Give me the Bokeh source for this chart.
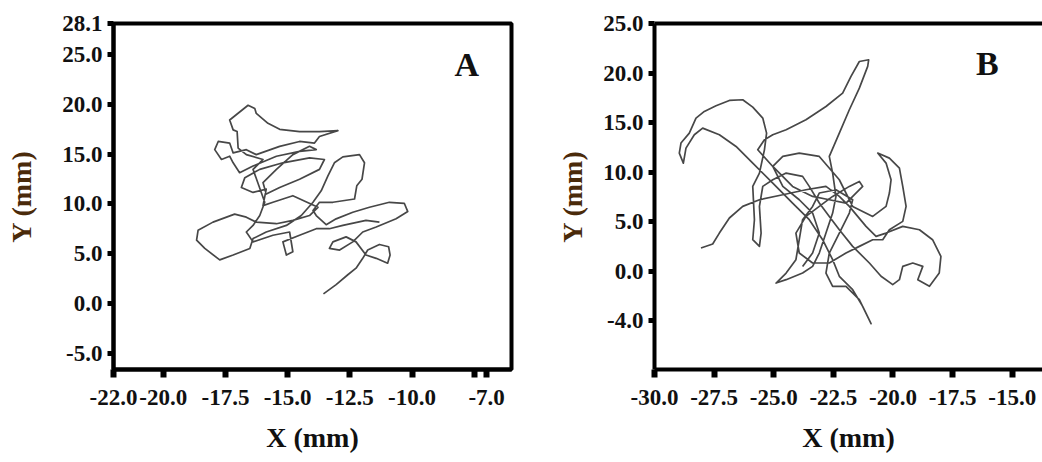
from bokeh.plotting import figure
from bokeh.models import FixedTicker, Label, LinearAxis, Range1d
from bokeh.layouts import row
from bokeh.embed import file_html
from bokeh.resources import INLINE

# ---------------- data ----------------
# Panel A trajectory (mm)
a_x = [-13.56, -13.05, -12.58, -12.25, -11.98, -11.78, -11.31, -10.94, -10.88, -10.98,
       -11.44, -11.85, -12.25, -12.65, -13.18, -13.32, -12.91, -12.38, -11.98, -11.44,
       -10.64, -10.17, -10.31, -10.91, -11.71, -12.38, -13.05, -13.45, -13.85, -13.98,
       -13.72, -13.18, -12.31, -12.22, -12.01, -11.91, -12.11, -12.78, -13.12, -13.38,
       -13.65, -13.98, -14.45, -15.05, -15.86, -16.39, -16.52, -17.19, -17.73, -18.33,
       -18.66, -18.60, -18.00, -17.13, -16.66, -16.26, -15.45, -14.79, -14.12, -13.78,
       -14.79, -15.59, -15.99, -15.86, -16.39, -16.86, -16.72, -16.12, -15.19, -14.12,
       -13.52, -13.72, -14.52, -15.32, -15.86, -15.99, -15.45, -14.79, -14.12, -13.85,
       -14.52, -15.45, -16.39, -16.93, -17.19, -17.33, -17.66, -17.93, -17.79, -17.33,
       -17.19, -16.66, -16.26, -15.32, -14.52, -13.92, -13.72, -12.98, -13.72, -14.52,
       -15.32, -15.79, -16.26, -16.32, -16.59, -17.33, -17.19, -17.03, -16.99, -16.66,
       -15.99, -16.39, -15.92, -16.12, -16.39, -16.66, -16.39, -15.59, -14.92, -14.79,
       -15.05, -15.19, -14.52, -13.85, -13.32, -12.78, -11.85, -11.31]
a_y = [0.99, 1.91, 2.90, 3.56, 4.55, 5.38, 5.94, 5.71, 4.88, 4.06,
       4.55, 4.88, 6.20, 6.70, 6.20, 5.54, 5.38, 6.20, 7.19, 7.69,
       8.51, 9.24, 10.07, 10.17, 9.67, 9.17, 8.51, 7.92, 8.84, 9.34,
       10.17, 10.17, 10.50, 11.82, 12.48, 14.13, 14.95, 14.72, 14.13, 12.81,
       11.32, 10.17, 8.84, 7.85, 7.19, 6.53, 5.54, 4.88, 4.39, 5.54,
       6.37, 7.36, 8.18, 8.98, 8.68, 8.18, 8.02, 8.35, 8.84, 9.67,
       10.83, 10.17, 9.83, 11.49, 11.16, 11.65, 12.64, 13.47, 14.13, 14.62,
       14.46, 13.47, 12.48, 11.65, 10.99, 12.15, 13.47, 14.95, 15.78, 15.45,
       15.28, 14.79, 13.80, 13.14, 14.13, 14.79, 14.46, 15.45, 16.27, 16.11,
       15.12, 15.45, 14.95, 15.78, 16.27, 16.11, 16.77, 17.36, 17.26, 17.26,
       17.49, 18.09, 19.08, 19.57, 19.90, 18.42, 17.43, 17.26, 15.61, 14.95,
       14.46, 13.47, 10.17, 8.84, 7.85, 7.19, 6.20, 6.86, 7.19, 5.21,
       4.88, 6.20, 6.86, 7.52, 7.52, 7.85, 8.35, 8.18]

# Panel B trajectory (mm)
b_x = [-28.05, -27.56, -27.28, -26.86, -26.30, -25.60, -24.62, -23.65, -22.81, -22.25,
       -21.83, -21.13, -20.71, -20.29, -19.59, -18.89, -18.34, -17.99, -18.06, -18.47,
       -18.96, -18.75, -19.17, -19.59, -19.73, -20.01, -20.50, -20.99, -21.69, -22.25,
       -22.67, -23.09, -23.51, -23.79, -24.48, -25.04, -25.46, -25.60, -25.53, -25.60,
       -25.88, -25.81, -25.88, -25.60, -25.39, -25.30, -25.46, -25.88, -26.30, -26.86,
       -27.42, -27.91, -28.26, -28.54, -28.89, -28.96, -28.79, -28.68, -28.33, -27.98,
       -27.28, -26.58, -25.88, -25.04, -24.21, -23.51, -22.95, -22.53, -22.25, -21.69,
       -21.27, -20.92, -21.41, -21.97, -22.53, -22.81, -22.67, -22.25, -21.83, -21.69,
       -22.39, -23.09, -23.37, -23.79, -23.93, -24.07, -24.48, -24.90, -24.48, -23.79,
       -23.37, -23.09, -22.81, -22.53, -22.39, -22.53, -22.67, -22.25, -21.83, -21.41,
       -21.06, -21.02, -21.41, -21.76, -22.11, -22.81, -23.65, -24.48, -25.04, -25.39,
       -25.67, -25.04, -24.21, -23.37, -22.67, -21.97, -21.27, -21.41, -21.83, -22.53,
       -23.09, -23.65, -24.07, -23.93, -23.37, -22.67, -21.97, -21.41, -20.85, -20.43,
       -20.15, -19.59, -19.45, -19.59, -19.73, -20.15, -20.64, -20.29, -20.08, -20.15,
       -20.29, -20.85, -21.69, -22.25, -23.09, -23.93, -24.62, -25.04, -24.62, -23.93,
       -23.37, -23.09, -23.37, -23.79]
b_y = [2.35, 2.76, 3.86, 5.38, 6.55, 7.22, 7.73, 8.23, 8.57, 7.56,
       6.55, 4.54, 3.53, 3.86, 4.54, 4.20, 3.19, 1.51, -0.17, -1.51,
       -0.84, 0.50, 0.84, 0.50, -0.84, -1.34, -0.50, 0.84, 2.52, 4.20,
       5.54, 6.89, 8.57, 9.58, 9.91, 9.24, 8.57, 6.55, 3.86, 2.52,
       3.19, 5.21, 8.57, 9.91, 12.26, 13.94, 15.46, 16.57, 17.31, 17.24,
       16.70, 16.13, 15.46, 13.94, 12.94, 11.93, 10.92, 12.43, 13.78, 14.45,
       13.78, 12.60, 10.92, 8.90, 6.89, 5.21, 3.19, 1.18, -0.50, -1.85,
       -3.53, -5.28, -2.86, -1.51, -1.51, -0.17, 1.85, 3.86, 5.88, 7.22,
       8.23, 7.90, 6.55, 5.21, 3.19, 1.18, -0.17, -1.18, -0.84, -0.17,
       0.50, 1.85, 3.86, 5.88, 7.56, 9.91, 11.59, 13.94, 16.30, 18.48,
       20.67, 21.34, 21.17, 19.66, 17.98, 16.63, 15.29, 14.28, 13.78, 13.27,
       12.26, 10.58, 8.57, 7.56, 7.22, 6.89, 8.57, 9.07, 8.57, 7.56,
       6.55, 5.54, 3.86, 1.85, 0.84, 0.84, 1.85, 2.52, 3.19, 3.19,
       4.20, 5.04, 6.55, 8.57, 10.42, 11.42, 11.93, 10.92, 9.24, 7.90,
       6.55, 5.54, 6.55, 9.24, 11.59, 11.93, 11.59, 10.58, 8.57, 7.22,
       5.88, 3.86, 1.85, 0.50]

# axis ranges and ticks
a_xrange = (-22.0, -6.0)
a_yrange = (-6.6, 28.1)
a_xticks = [-22.0, -20.0, -17.5, -15.0, -12.5, -10.0, -7.5, -7.0]
a_xlabels = ["-22.0", "-20.0", "-17.5", "-15.0", "-12.5", "-10.0", "", "-7.0"]
a_yticks = [-5.0, 0.0, 5.0, 10.0, 15.0, 20.0, 25.0, 28.1]
a_ylabels = ["-5.0", "0.0", "5.0", "10.0", "15.0", "20.0", "25.0", "28.1"]

b_xrange = (-30.0, -13.73)
b_yrange = (-9.9, 25.0)
b_xticks = [-30.0, -27.5, -25.0, -22.5, -20.0, -17.5, -15.0]
b_xlabels = ["-30.0", "-27.5", "-25.0", "-22.5", "-20.0", "-17.5", "-15.0"]
b_yticks = [-5.0, 0.0, 5.0, 10.0, 15.0, 20.0, 25.0]
b_ylabels = ["-4.0", "0.0", "5.0", "10.0", "15.0", "20.0", "25.0"]

FONT = "Liberation Serif"
TRACK = "#3d3d3d"
YLAB = "#4a2a0a"


def style(ax, ticks, labels, tick_w, tick_out, standoff, lab_standoff, lab_color):
    ax.ticker = FixedTicker(ticks=ticks)
    ax.major_label_overrides = {t: l for t, l in zip(ticks, labels)}
    ax.minor_tick_line_color = None
    ax.major_tick_in = 0
    ax.major_tick_out = tick_out
    ax.major_tick_line_width = tick_w
    ax.major_tick_line_color = "black"
    ax.axis_line_width = 4
    ax.axis_line_color = "black"
    ax.major_label_text_font = FONT
    ax.major_label_text_font_style = "bold"
    ax.major_label_text_font_size = "23px"
    ax.major_label_text_color = "#111111"
    ax.major_label_standoff = standoff
    ax.axis_label_text_font = FONT
    ax.axis_label_text_font_style = "bold"
    ax.axis_label_text_font_size = "28px"
    ax.axis_label_text_color = lab_color
    ax.axis_label_standoff = lab_standoff


def make_panel(xs, ys, xr, yr, xt, xl, yt, yl, w, h, bl, br, bt, bb, ylab_standoff, letter, lx, ly, outline):
    p = figure(width=w, height=h, x_range=Range1d(*xr), y_range=Range1d(*yr),
               output_backend="svg", toolbar_location=None, tools="",
               min_border_left=bl, min_border_right=br, min_border_top=bt, min_border_bottom=bb,
               x_axis_label="X (mm)", y_axis_label="Y (mm)")
    p.grid.visible = False
    p.background_fill_color = "white"
    p.border_fill_color = "white"
    style(p.below[0], xt, xl, 6, 8, 12, 14, "#111111")
    style(p.left[0], yt, yl, 5, 6, 5, ylab_standoff, YLAB)
    if outline:
        p.outline_line_color = "black"
        p.outline_line_width = 4
    else:
        p.outline_line_color = None
        top = LinearAxis(ticker=FixedTicker(ticks=[]), axis_line_width=4, axis_line_color="black",
                         major_tick_line_color=None, minor_tick_line_color=None,
                         major_label_text_font_size="0px")
        p.add_layout(top, "above")
    p.line(xs, ys, line_color=TRACK, line_width=1.7, line_join="round", line_alpha=0.95)
    p.add_layout(Label(x=lx, y=ly, text=letter, text_font=FONT, text_font_style="bold",
                       text_font_size="34px", text_align="center", text_baseline="middle",
                       text_color="#111111"))
    return p


pA = make_panel(a_x, a_y, a_xrange, a_yrange, a_xticks, a_xlabels, a_yticks, a_ylabels,
                531, 458, 113, 20, 23, 89, 22, "A", -7.8, 24.0, True)
pB = make_panel(b_x, b_y, b_xrange, b_yrange, b_xticks, b_xlabels, b_yticks, b_ylabels,
                511, 458, 123, 0, 23, 89, 12, "B", -16.04, 21.0, False)

layout = row(pA, pB)
open("out.html", "w").write(file_html(layout, INLINE))
